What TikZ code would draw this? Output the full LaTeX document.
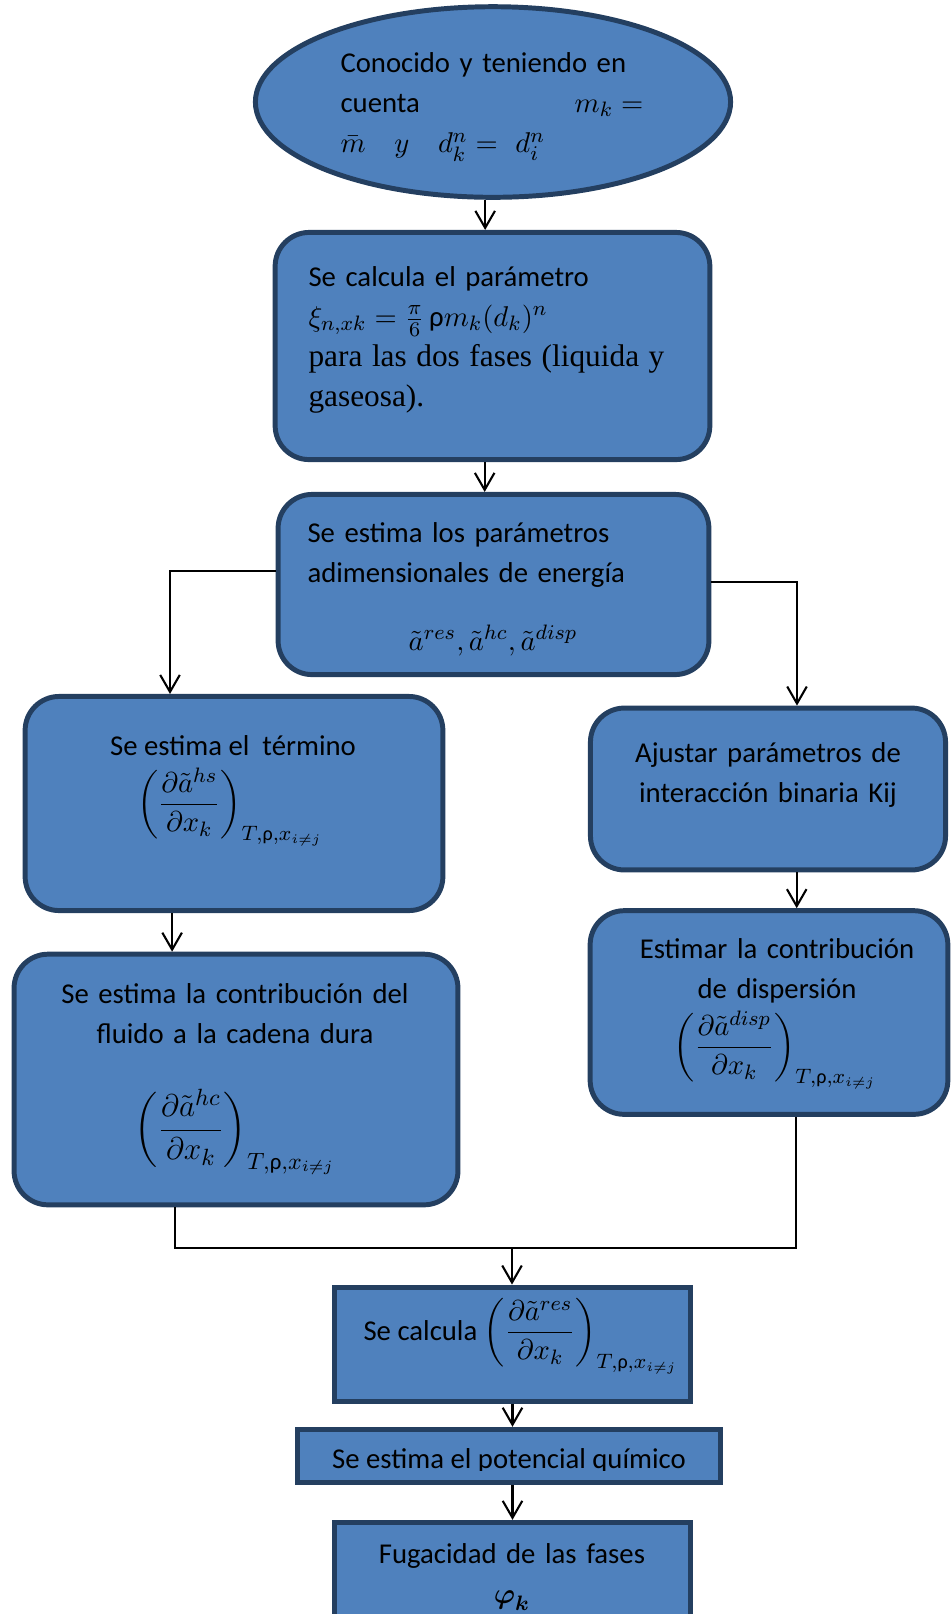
\documentclass[tikz,border=0pt]{standalone}
\usepackage{fontspec}
\usepackage{amsmath}
\setmainfont{Carlito}
\newfontfamily\timesfont{Liberation Serif}
\usetikzlibrary{shapes.geometric,arrows.meta,positioning}

\definecolor{boxfill}{HTML}{4F81BD}
\definecolor{boxline}{HTML}{243F60}

\newcommand{\pderiv}[1]{\left(\frac{\partial\tilde{a}^{#1}}{\partial x_k}\right)_{T,\text{ρ},x_{i\neq j}}}

\tikzset{
  box/.style={draw=boxline, fill=boxfill, line width=1.9pt, inner sep=0pt},
  rbox/.style={box, rounded corners=13pt},
  txt/.style={font=\fontsize{11}{15.4}\selectfont, inner sep=0pt, align=center},
  flow/.style={->, line width=0.8pt},
  link/.style={line width=0.8pt}
}

\begin{document}
\begin{tikzpicture}[x=0.383pt, y=-0.383pt, >={Straight Barb[length=6.5pt,width=7.5pt]}]
  \useasboundingbox (0,0) rectangle (951,1614);

  % Shapes of the flow
  \node[box, ellipse, minimum width=182pt, minimum height=73pt] (start) at (493,102) {};
  \node[rbox, minimum width=166.5pt, minimum height=87pt] (calc) at (492.5,346) {};
  \node[rbox, minimum width=165pt, minimum height=69pt] (energy) at (493.5,584.5) {};
  \node[rbox, minimum width=160pt, minimum height=82pt] (hs) at (234,803.5) {};
  \node[rbox, minimum width=136pt, minimum height=62pt] (kij) at (768,789) {};
  \node[rbox, minimum width=137pt, minimum height=78pt] (disp) at (769,1012.5) {};
  \node[rbox, minimum width=170pt, minimum height=96pt] (hc) at (236,1079.5) {};
  \node[box, minimum width=136pt, minimum height=44pt] (res) at (512.5,1344.5) {};
  \node[box, minimum width=162pt, minimum height=20.5pt] (chem) at (509,1456) {};
  \node[box, minimum width=136pt, minimum height=48pt] (fug) at (512.5,1585) {};

  % Texts
  \node[txt, text width=116pt, align=left, anchor=base west] at (340,72)
    {Conocido y teniendo en\\ cuenta\hfill $m_k=$\\ $\bar{m}\quad y\quad d_k^n=\ d_i^n$};
  \node[txt, text width=170pt, align=left, anchor=base west] at (308,286)
    {Se calcula el parámetro\\ $\xi_{n,xk}=\frac{\pi}{6}\,\text{ρ}m_k(d_k)^n$\\
     {\timesfont\fontsize{12}{15.4}\selectfont para las dos fases (liquida y\\ gaseosa).}};
  \node[txt, text width=170pt, align=left, anchor=base west] at (307,542)
    {Se estima los parámetros\\ adimensionales de energía};
  \node[txt, anchor=base] at (493,650) {$\tilde{a}^{res},\tilde{a}^{hc},\tilde{a}^{disp}$};
  \node[txt, anchor=base] at (233,755) {Se estima el\ \ término};
  \node[txt, anchor=base] at (230,812) {$\displaystyle\pderiv{hs}$};
  \node[txt, text width=140pt, anchor=base] at (768,762) {Ajustar parámetros de\\ interacción binaria Kij};
  \node[txt, text width=140pt, anchor=base] at (777,958) {Estimar la contribución\\ de dispersión};
  \node[txt, anchor=base] at (775,1055) {$\displaystyle\pderiv{disp}$};
  \node[txt, text width=170pt, anchor=base] at (235,1003) {Se estima la contribución del\\ fluido a la cadena dura};
  \node[txt, font=\fontsize{12.5}{15}\selectfont, anchor=base] at (235,1138) {$\displaystyle\pderiv{hc}$};
  \node[txt, anchor=base west] at (363,1340) {Se calcula $\displaystyle\pderiv{res}$};
  \begin{scope}
    \clip (296,1428) rectangle (722,1470);
    \node[txt, anchor=base] at (509,1468) {Se estima el potencial químico};
  \end{scope}
  \node[txt, text width=140pt, anchor=base] at (512,1563)
    {Fugacidad de las fases\\ $\boldsymbol{\varphi}_{\boldsymbol{k}}$};

  % Connectors
  \coordinate (lsplit) at (170,571);
  \coordinate (rsplit) at (797,582);
  \coordinate (ljoin) at (175,1248);
  \coordinate (rjoin) at (796,1248);
  \coordinate (join) at (512,1248);

  \draw[flow] ([xshift=-3pt]start.south) -- ([xshift=-3pt]start.south |- calc.north);
  \draw[flow] ([xshift=-3pt]calc.south) -- ([xshift=-3pt]calc.south |- energy.north);
  \draw[flow] (energy.west |- lsplit) -- (lsplit) -- (lsplit |- hs.north);
  \draw[flow] (energy.east |- rsplit) -- (rsplit) -- (rsplit |- kij.north);
  \draw[flow] ([xshift=-23.7pt]hs.south) -- ([xshift=-23.7pt]hs.south |- hc.north);
  \draw[flow] ([xshift=11pt]kij.south) -- ([xshift=11pt]kij.south |- disp.north);
  \draw[link] (hc.south -| ljoin) -- (ljoin) -- (rjoin) -- (disp.south -| rjoin);
  \draw[flow] (join) -- (join |- res.north);
  \draw[flow] (res.south) -- (res.south |- chem.north);
  \draw[flow] (res.south |- chem.south) -- (res.south |- fug.north);
\end{tikzpicture}
\end{document}
